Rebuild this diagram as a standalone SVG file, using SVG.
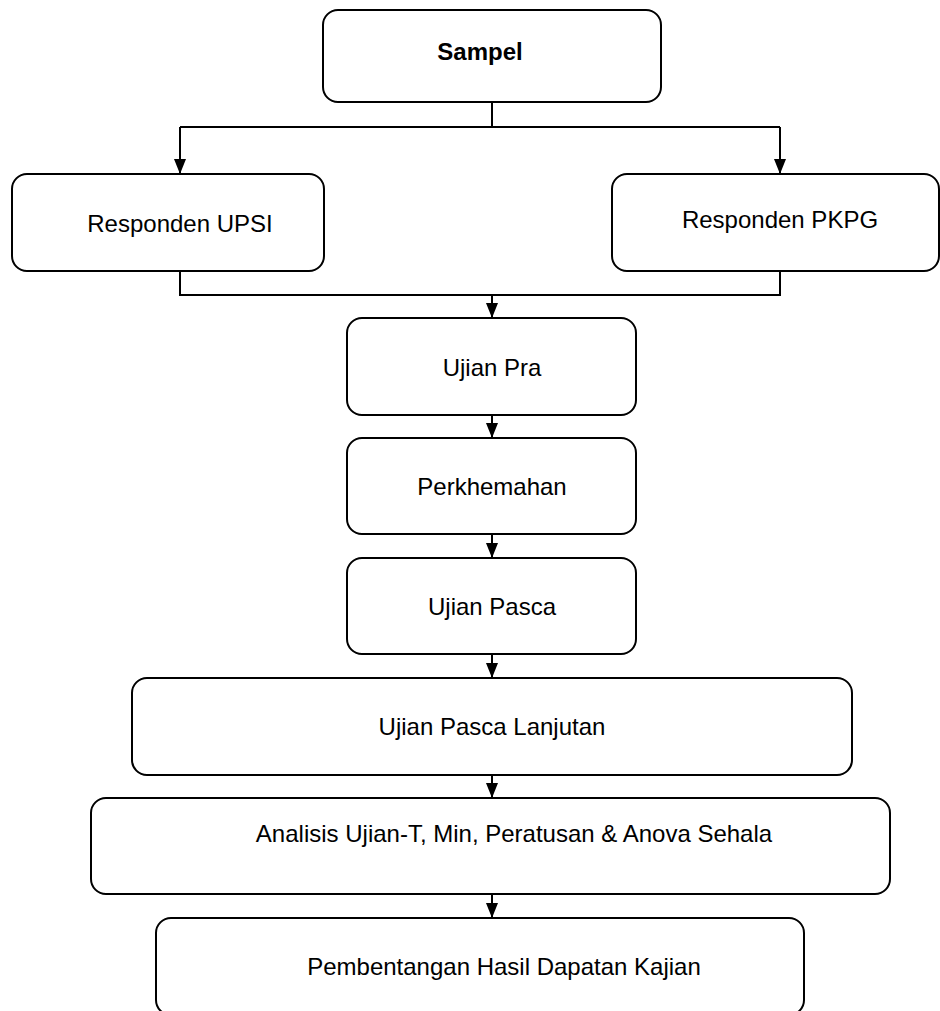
<svg xmlns="http://www.w3.org/2000/svg" width="940" height="1011" viewBox="0 0 940 1011">
<style>
.box{fill:#fff;stroke:#000;stroke-width:2}
.t{font-family:"Liberation Sans",Arial,sans-serif;font-size:24px;fill:#000;text-anchor:middle}
.b{font-weight:bold}
.c{fill:none;stroke:#000;stroke-width:2}
</style>
<defs>
<marker id="ah" markerUnits="userSpaceOnUse" markerWidth="15" markerHeight="12" refX="15" refY="6" orient="auto">
<path d="M0,0 L15,6 L0,12 z" fill="#000"/>
</marker>
</defs>
<rect width="940" height="1011" fill="#fff"/>
<g id="connectors">
<path class="c" d="M492,102 V127 M180,127 H780"/>
<path class="c" d="M180,127 V174" marker-end="url(#ah)"/>
<path class="c" d="M780,127 V174" marker-end="url(#ah)"/>
<path class="c" d="M180,271 V295 H780 V271"/>
<path class="c" d="M492,295 V318" marker-end="url(#ah)"/>
<path class="c" d="M492,415 V438" marker-end="url(#ah)"/>
<path class="c" d="M492,534 V558" marker-end="url(#ah)"/>
<path class="c" d="M492,654 V678" marker-end="url(#ah)"/>
<path class="c" d="M492,775 V798" marker-end="url(#ah)"/>
<path class="c" d="M492,894 V918" marker-end="url(#ah)"/>
</g>
<g id="sampel"><rect class="box" x="323" y="10" width="338" height="92" rx="15"/><text class="t b" x="480" y="60">Sampel</text></g>
<g id="upsi"><rect class="box" x="12" y="174" width="312" height="97" rx="15"/><text class="t" x="180" y="232">Responden UPSI</text></g>
<g id="pkpg"><rect class="box" x="612" y="174" width="327" height="97" rx="15"/><text class="t" x="780" y="228">Responden PKPG</text></g>
<g id="ujianpra"><rect class="box" x="347" y="318" width="289" height="97" rx="15"/><text class="t" x="492" y="376">Ujian Pra</text></g>
<g id="perkhemahan"><rect class="box" x="347" y="438" width="289" height="96" rx="15"/><text class="t" x="492" y="495">Perkhemahan</text></g>
<g id="ujianpasca"><rect class="box" x="347" y="558" width="289" height="96" rx="15"/><text class="t" x="492" y="615">Ujian Pasca</text></g>
<g id="lanjutan"><rect class="box" x="132" y="678" width="720" height="97" rx="15"/><text class="t" x="492" y="735">Ujian Pasca Lanjutan</text></g>
<g id="analisis"><rect class="box" x="91" y="798" width="799" height="96" rx="15"/><text class="t" x="514" y="842">Analisis Ujian-T, Min, Peratusan &amp; Anova Sehala</text></g>
<g id="pembentangan"><rect class="box" x="156" y="918" width="648" height="97" rx="15"/><text class="t" x="504" y="975">Pembentangan Hasil Dapatan Kajian</text></g>
</svg>
